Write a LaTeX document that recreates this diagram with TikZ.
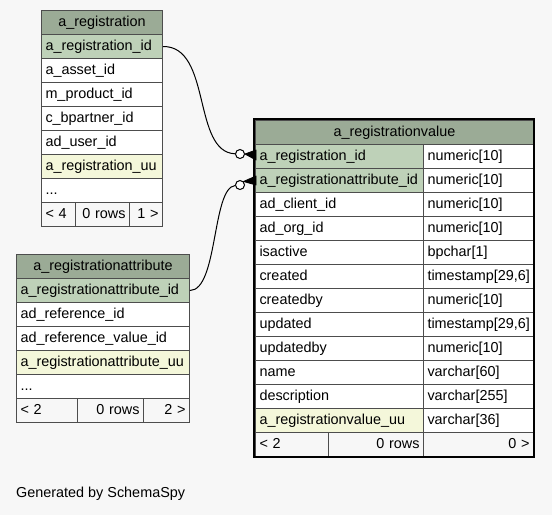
\documentclass[tikz,border=0pt]{standalone}
\usepackage{fontspec}
\setmainfont{Liberation Sans}
\definecolor{bg}{HTML}{F7F7F7}
\definecolor{hdr}{HTML}{9BAB96}
\definecolor{pk}{HTML}{BED1B8}
\definecolor{uu}{HTML}{F4F7DA}
\definecolor{grid}{HTML}{4D4D4D}
\tikzset{
  cellbase/.style={draw=grid, line width=1pt, inner xsep=3pt, inner ysep=0pt,
    text height=10pt, text depth=3pt, font=\fontsize{14.4}{16}\selectfont, anchor=north west},
  conn/.style={line width=1pt, draw=black},
  ring/.style={circle, draw=black, fill=white, minimum size=9pt, inner sep=0pt, line width=1pt},
  crow/.style={fill=black, draw=black, line width=0.8pt, line join=round}
}
\newcommand\tcell[8]{\pgfmathsetmacro\celltw{#4-8}\node[cellbase,fill=#6,minimum width=#4pt,minimum height=#5pt,text width=\celltw pt,align=#7] (#1) at (#2,#3) {#8};}
\begin{document}
\begin{tikzpicture}[x=1pt,y=-1pt]
\fill[bg] (0,0) rectangle (552,515);
\useasboundingbox (0,0) rectangle (552,515);

% a_registration
\tcell{rh}{41}{10}{121}{24}{hdr}{center}{a\_registration}
\tcell{rid}{41}{34}{121}{24}{pk}{left}{a\_registration\_id}
\tcell{ra}{41}{58}{121}{24}{white}{left}{a\_asset\_id}
\tcell{rb}{41}{82}{121}{24}{white}{left}{m\_product\_id}
\tcell{rc}{41}{106}{121}{24}{white}{left}{c\_bpartner\_id}
\tcell{rd}{41}{130}{121}{24}{white}{left}{ad\_user\_id}
\tcell{ruu}{41}{154}{121}{24}{uu}{left}{a\_registration\_uu}
\tcell{rdots}{41}{178}{121}{24}{white}{left}{...}
\tcell{rf1}{41}{202}{34}{24}{bg}{left}{< 4}
\tcell{rf2}{75}{202}{54}{24}{bg}{right}{0 rows}
\tcell{rf3}{129}{202}{33}{24}{bg}{right}{1 >}

% a_registrationattribute
\tcell{ah}{16}{254}{173}{24}{hdr}{center}{a\_registrationattribute}
\tcell{aid}{16}{278}{173}{24}{pk}{left}{a\_registrationattribute\_id}
\tcell{aa}{16}{302}{173}{24}{white}{left}{ad\_reference\_id}
\tcell{ab}{16}{326}{173}{24}{white}{left}{ad\_reference\_value\_id}
\tcell{auu}{16}{350}{173}{24}{uu}{left}{a\_registrationattribute\_uu}
\tcell{adots}{16}{374}{173}{24}{white}{left}{...}
\tcell{af1}{16}{398}{61}{24}{bg}{left}{< 2}
\tcell{af2}{77}{398}{66}{24}{bg}{right}{0 rows}
\tcell{af3}{143}{398}{46}{24}{bg}{right}{2 >}

% a_registrationvalue
\tcell{vh}{255}{120}{278}{24}{hdr}{center}{a\_registrationvalue}
\foreach \i/\n/\t/\f in {0/{a\_registration\_id}/{numeric[10]}/pk,
  1/{a\_registrationattribute\_id}/{numeric[10]}/pk,
  2/{ad\_client\_id}/{numeric[10]}/white,
  3/{ad\_org\_id}/{numeric[10]}/white,
  4/{isactive}/{bpchar[1]}/white,
  5/{created}/{timestamp[29,6]}/white,
  6/{createdby}/{numeric[10]}/white,
  7/{updated}/{timestamp[29,6]}/white,
  8/{updatedby}/{numeric[10]}/white,
  9/{name}/{varchar[60]}/white,
  10/{description}/{varchar[255]}/white,
  11/{a\_registrationvalue\_uu}/{varchar[36]}/uu}{
  \pgfmathsetmacro\yy{144+24*\i}
  \tcell{vn\i}{255}{\yy}{168}{24}{\f}{left}{\n}
  \tcell{vt\i}{423}{\yy}{110}{24}{white}{left}{\t}
}
\tcell{vf1}{255}{432}{73}{24}{bg}{left}{< 2}
\tcell{vf2}{328}{432}{95}{24}{bg}{right}{0 rows}
\tcell{vf3}{423}{432}{110}{24}{bg}{right}{0 >}
\draw[line width=2.5pt] (254,119) rectangle (534,457);

% connectors
\node[ring] (c1) at (240,154) {};
\node[ring] (c2) at (240,185) {};
\draw[crow] (c1.east) -- (256,150) -- (256,160) -- cycle;
\draw[crow] (c2.north east) -- (256,176) -- (256,185) -- cycle;
\draw[conn] (rid.east) .. controls (212,46) and (192,152) .. (c1);
\draw[conn] (aid.east) .. controls (218,290) and (212,188) .. (c2);

\node[anchor=west, inner sep=0pt, font=\fontsize{14.4}{16}\selectfont] (gen) at (16,494) {Generated by SchemaSpy};
\end{tikzpicture}
\end{document}
